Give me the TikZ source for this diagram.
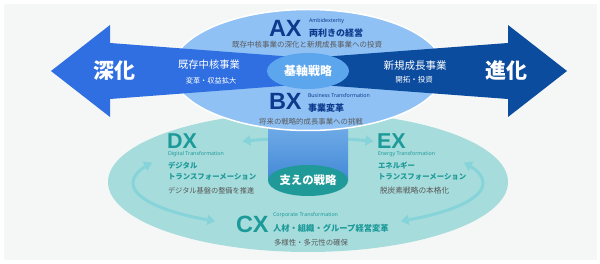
\documentclass[tikz,border=0pt]{standalone}
\usepackage{fontspec}
\setmainfont{Noto Sans CJK JP}
\newfontfamily\latinbig{Liberation Sans}
\newfontfamily\latinsmall{Noto Sans}
\usetikzlibrary{arrows.meta}
\definecolor{bggray}{HTML}{F5F7F7}
\definecolor{lowteal}{HTML}{A7DCDC}
\definecolor{cyclec}{HTML}{86D4D9}
\definecolor{cyltop}{HTML}{7DB5EC}
\definecolor{cylbot}{HTML}{4389D6}
\definecolor{sasae}{HTML}{1F9A98}
\definecolor{topblue}{HTML}{8FC1F5}
\definecolor{leftblue}{HTML}{2F6FE2}
\definecolor{rightblue}{HTML}{0B4C9E}
\definecolor{kijiku}{HTML}{5CA6EE}
\definecolor{navy}{HTML}{0D3A8C}
\definecolor{txtgray}{HTML}{585858}
\definecolor{tealtxt}{HTML}{1C9A99}
\tikzset{
  t/.style={inner sep=0pt, outer sep=0pt},
  bigx/.style={t, anchor=west, font=\latinbig\fontsize{23.5}{24}\selectfont\bfseries},
  tiny/.style={t, anchor=west, font=\latinsmall\fontsize{5.3}{6}\selectfont},
  subttl/.style={t, anchor=west, font=\fontsize{9}{10}\selectfont\bfseries},
  graytxt/.style={t, text=txtgray, font=\fontsize{7.5}{8}\selectfont},
  whitetxt/.style={t, text=white},
  cyc/.style={cyclec, line width=3pt, {Triangle[length=8pt,width=10pt]}-{Triangle[length=8pt,width=10pt]}}
}
\begin{document}
\begin{tikzpicture}[x=1pt,y=-1pt]
\useasboundingbox (0,0) rectangle (600,264);
\fill[white] (0,0) rectangle (600,264);
\fill[bggray] (4,4) rectangle (597,260);
% lower ellipse
\fill[lowteal] (308,182) ellipse[x radius=200pt, y radius=70pt];
% cycle arcs
\draw[cyc] plot[domain=122:207, samples=40, smooth] ({308+175*cos(\x)},{183+45*sin(\x)});
\draw[cyc] plot[domain=-27:58, samples=40, smooth] ({308+175*cos(\x)},{183+45*sin(\x)});
\draw[cyc] plot[domain=248:292, samples=30, smooth] ({308+175*cos(\x)},{183+45*sin(\x)});
% cylinder
\fill[top color=cyltop, bottom color=cylbot] (268,110) rectangle (348,180.5);
\fill[sasae] (308,180.5) ellipse[x radius=40pt, y radius=15.5pt];
% top ellipse
\fill[topblue, draw=white, line width=1.5pt] (308,70) ellipse[x radius=136pt, y radius=60.5pt];
% arrows
\fill[leftblue] (51,71) -- (110,25) -- (110,43) -- (308,58) -- (308,84) -- (110,99) -- (110,117) -- cycle;
\fill[rightblue] (567,71) -- (508,25) -- (508,43) -- (308,58) -- (308,84) -- (508,99) -- (508,117) -- cycle;
\fill[kijiku] (308,71) ellipse[x radius=41pt, y radius=18pt];
% texts top
\node[bigx, text=navy] (ax) at (269,28.5) {AX};
\node[tiny, text=navy] (axen) at (309,21) {Ambidexterity};
\node[subttl, text=navy] (axjp) at (309,33) {両利きの経営};
\node[graytxt] (axd) at (307,44.5) {既存中核事業の深化と新規成長事業への投資};
\node[bigx, text=navy] (bx) at (269,101.5) {BX};
\node[tiny, text=navy] (bxen) at (308,96) {Business Transformation};
\node[subttl, text=navy] (bxjp) at (308,108) {事業変革};
\node[graytxt, font=\fontsize{7.4}{8}\selectfont] (bxd) at (311,121.5) {将来の戦略的成長事業への挑戦};
\node[whitetxt, font=\fontsize{21}{22}\selectfont\bfseries] (shinka) at (114,71) {深化};
\node[whitetxt, font=\fontsize{10.3}{11}\selectfont] (kizon) at (209,65) {既存中核事業};
\node[whitetxt, font=\fontsize{7.2}{8}\selectfont] (kizond) at (211,80.5) {変革・収益拡大};
\node[whitetxt, font=\fontsize{10.5}{11}\selectfont] (shinki) at (415,66) {新規成長事業};
\node[whitetxt, font=\fontsize{7.5}{8}\selectfont] (shinkid) at (414,79.5) {開拓・投資};
\node[whitetxt, font=\fontsize{21}{22}\selectfont\bfseries] (shinka2) at (506,71) {進化};
\node[whitetxt, font=\fontsize{12}{13}\selectfont\bfseries] (kijikutxt) at (308,71) {基軸戦略};
\node[whitetxt, font=\fontsize{11.4}{12}\selectfont\bfseries] (sasaetxt) at (308,180.5) {支えの戦略};
% lower texts
\node[bigx, text=tealtxt, font=\latinbig\fontsize{21.5}{22}\selectfont\bfseries] (dx) at (167,141) {DX};
\node[tiny, text=tealtxt] (dxen) at (168,154) {Digital Transformation};
\node[t, anchor=west, text=tealtxt, font=\fontsize{7.4}{8}\selectfont\bfseries] (dxjp1) at (168,165.5) {デジタル};
\node[t, anchor=west, text=tealtxt, font=\fontsize{7.4}{8}\selectfont\bfseries] (dxjp2) at (168,177) {トランスフォーメーション};
\node[graytxt, anchor=west, font=\fontsize{7.2}{8}\selectfont] (dxd) at (168,191) {デジタル基盤の整備を推進};
\node[bigx, text=tealtxt, font=\latinbig\fontsize{21.5}{22}\selectfont\bfseries] (ex) at (377,141) {EX};
\node[tiny, text=tealtxt] (exen) at (378,154) {Energy Transformation};
\node[t, anchor=west, text=tealtxt, font=\fontsize{7.4}{8}\selectfont\bfseries] (exjp1) at (378,165.5) {エネルギー};
\node[t, anchor=west, text=tealtxt, font=\fontsize{7.4}{8}\selectfont\bfseries] (exjp2) at (378,177) {トランスフォーメーション};
\node[graytxt, anchor=west, font=\fontsize{7.7}{8}\selectfont] (exd) at (380,191) {脱炭素戦略の本格化};
\node[bigx, text=tealtxt] (cx) at (236,224) {CX};
\node[tiny, text=tealtxt] (cxen) at (273,215) {Corporate Transformation};
\node[t, anchor=west, text=tealtxt, font=\fontsize{8.3}{9}\selectfont\bfseries] (cxjp) at (273,228) {人材・組織・グループ経営変革};
\node[graytxt, anchor=west, font=\fontsize{7.4}{8}\selectfont] (cxd) at (274,243) {多様性・多元性の確保};
\end{tikzpicture}
\end{document}
